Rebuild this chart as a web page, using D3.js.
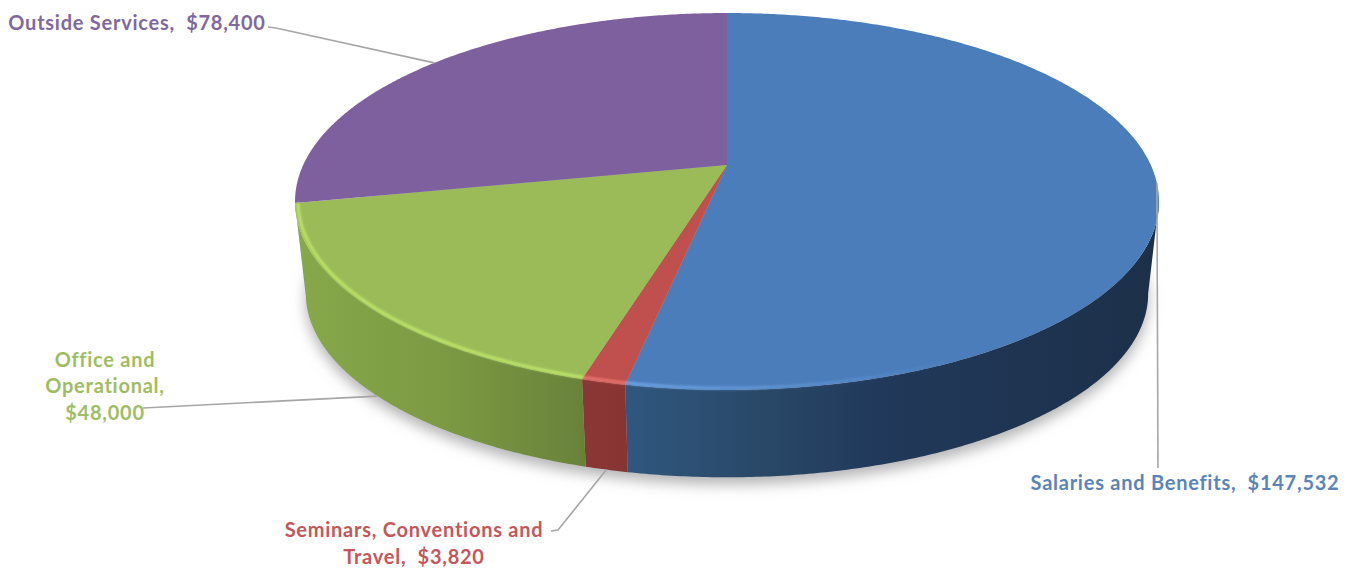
<!DOCTYPE html>
<html>
<head>
<meta charset="utf-8">
<title>Expense breakdown</title>
<script src="https://cdn.jsdelivr.net/npm/d3@7/dist/d3.min.js"></script>
<style>
  html, body { margin: 0; padding: 0; background: #fff; overflow: hidden; }
  text { font-family: Lato, "Open Sans", sans-serif; font-weight: 700; white-space: pre; }
</style>
</head>
<body>
<svg id="chart" width="1355" height="568"></svg>
<script>
// Expense categories and their amounts, clockwise from twelve o'clock
const categories = ["Salaries and Benefits", "Seminars, Conventions and Travel", "Office and Operational", "Outside Services"];
const amounts = [147532, 3820, 48000, 78400];

// Look of each wedge
const topColors = ["#4b7dbb", "#c0504d", "#9bbb59", "#7f609e"];
const textColors = ["#5b84b9", "#c4575a", "#9fbd63", "#80699f"];
const rimColors = ["#6ea4e4", "#e8736e", "#bde566", "#8064a2"];
const sideStops = [
  [[628, 760, 880, 1150], ["#30577f", "#294868", "#21395a", "#1c3049"]],
  [[580, 630], ["#8b3735", "#873433"]],
  [[300, 450, 584], ["#86a84a", "#7b9942", "#69823a"]],
  [[290, 430], ["#6b5388", "#6b5388"]]
];

// Label text, line by line, with anchor points and leader elbows
const labelLines = [
  [{ t: "Salaries and Benefits,  $147,532", x: 1185, y: 490 }],
  [{ t: "Seminars, Conventions and", x: 414, y: 537 }, { t: "Travel,  $3,820", x: 414, y: 564 }],
  [{ t: "Office and", x: 105, y: 367 }, { t: "Operational,", x: 105, y: 393 }, { t: "$48,000", x: 105, y: 420 }],
  [{ t: "Outside Services,  $78,400", x: 137, y: 30 }]
];
const leaderStarts = [
  [[1158, 468]],
  [[551, 531], [558, 530]],
  [[143, 408]],
  [[268, 27], [276, 28]]
];
// Which rim the leader lands on: 0 for the top face, 1 for the lower edge
const leaderRim = [0, 1, 1, 0];

// Tilted-disc camera: a unit circle maps to the page through a perspective divide
const cam = { cx: 727, topY: 165, baseY: 258, rx: 423.8, ry: 181.4, k: 0.1935, baseScale: 0.975 };

function project(angle, level, r = 1) {
  const u = r * Math.sin(angle), v = -r * Math.cos(angle);
  const d = 1 - cam.k * v;
  const s = level ? cam.baseScale : 1;
  const y0 = level ? cam.baseY : cam.topY;
  return [cam.cx + s * cam.rx * u / d, y0 + s * cam.ry * v / d];
}

const deg = Math.PI / 180;
const sampled = (a0, a1, step = 0.5 * deg) => {
  const n = Math.max(1, Math.ceil((a1 - a0) / step));
  return d3.range(n + 1).map(i => a0 + (a1 - a0) * i / n);
};

const svg = d3.select("#chart");
const defs = svg.append("defs");
defs.append("filter").attr("id", "soft").attr("x", "-10%").attr("y", "-10%").attr("width", "120%").attr("height", "130%")
  .append("feGaussianBlur").attr("stdDeviation", 7);
defs.append("filter").attr("id", "rimBlur").attr("x", "-5%").attr("y", "-20%").attr("width", "110%").attr("height", "140%")
  .append("feGaussianBlur").attr("stdDeviation", 0.9);

const slices = d3.pie().sort(null).value(d => d)(amounts);
const line = d3.line();

// Soft shadow under the disc
svg.append("path")
  .attr("d", line(sampled(0, 2 * Math.PI, deg).map(a => project(a, 1))) + "Z")
  .attr("transform", "translate(0,7)")
  .attr("fill", "#9a9a9a")
  .attr("fill-opacity", 0.75)
  .attr("filter", "url(#soft)");

// Horizontal shading for each wedge's side wall
slices.forEach((s, i) => {
  const [xs, cols] = sideStops[i];
  const grad = defs.append("linearGradient").attr("id", `side${i}`)
    .attr("gradientUnits", "userSpaceOnUse")
    .attr("x1", xs[0]).attr("x2", xs[xs.length - 1]).attr("y1", 0).attr("y2", 0);
  const pos = d3.scaleLinear().domain(d3.extent(xs)).range([0, 1]);
  xs.forEach((x, j) => grad.append("stop").attr("offset", pos(x)).attr("stop-color", cols[j]));
});

// Side wall: only the part of the rim that faces the viewer
const frontFrom = Math.acos(-cam.k), frontTo = 2 * Math.PI - frontFrom;
const walls = slices
  .map((s, i) => ({ i, a0: Math.max(s.startAngle, frontFrom), a1: Math.min(s.endAngle, frontTo) }))
  .filter(w => w.a1 > w.a0);
svg.append("g").selectAll("path").data(walls).join("path")
  .attr("d", w => {
    const as = sampled(w.a0, w.a1);
    return line([...as.map(a => project(a, 0)), ...as.slice().reverse().map(a => project(a, 1))]) + "Z";
  })
  .attr("fill", w => `url(#side${w.i})`);

// Top face wedges
svg.append("g").selectAll("path").data(slices).join("path")
  .attr("d", s => line([[cam.cx, cam.topY], ...sampled(s.startAngle, s.endAngle).map(a => project(a, 0))]) + "Z")
  .attr("fill", (s, i) => topColors[i]);

// Lit bevel along the near rim, fading out on the blue wedge
const blueRim = defs.append("linearGradient").attr("id", "blueRim")
  .attr("gradientUnits", "userSpaceOnUse").attr("x1", 628).attr("x2", 960).attr("y1", 0).attr("y2", 0);
blueRim.append("stop").attr("offset", 0).attr("stop-color", rimColors[0]);
blueRim.append("stop").attr("offset", 1).attr("stop-color", rimColors[0]).attr("stop-opacity", 0);

const rim = svg.append("g").attr("filter", "url(#rimBlur)");
rim.selectAll("path").data(slices.slice(0, 3)).join("path")
  .attr("d", (s, i) => {
    const from = i === 0 ? Math.max(s.startAngle, 120 * deg) : s.startAngle;
    return line(sampled(from, s.endAngle).map(a => project(a, 0, 0.9935)));
  })
  .attr("fill", "none")
  .attr("stroke-width", 3)
  .attr("stroke", (s, i) => i === 0 ? "url(#blueRim)" : rimColors[i]);

// Leader lines from each label to its wedge's mid angle
svg.append("g").selectAll("path").data(slices).join("path")
  .attr("d", (s, i) => line([...leaderStarts[i], project((s.startAngle + s.endAngle) / 2, leaderRim[i])]))
  .attr("fill", "none")
  .attr("stroke", "#a6a6a6")
  .attr("stroke-width", 1.6);

// Data labels
const fmt = d3.format("$,");
svg.append("g").selectAll("g").data(labelLines).join("g")
  .attr("fill", (d, i) => textColors[i])
  .attr("aria-label", (d, i) => `${categories[i]}, ${fmt(amounts[i])}`)
  .selectAll("text").data(d => d).join("text")
  .attr("x", d => d.x)
  .attr("y", d => d.y)
  .attr("text-anchor", "middle")
  .attr("font-size", 20)
  .attr("letter-spacing", 0.75)
  .text(d => d.t);
</script>
</body>
</html>
